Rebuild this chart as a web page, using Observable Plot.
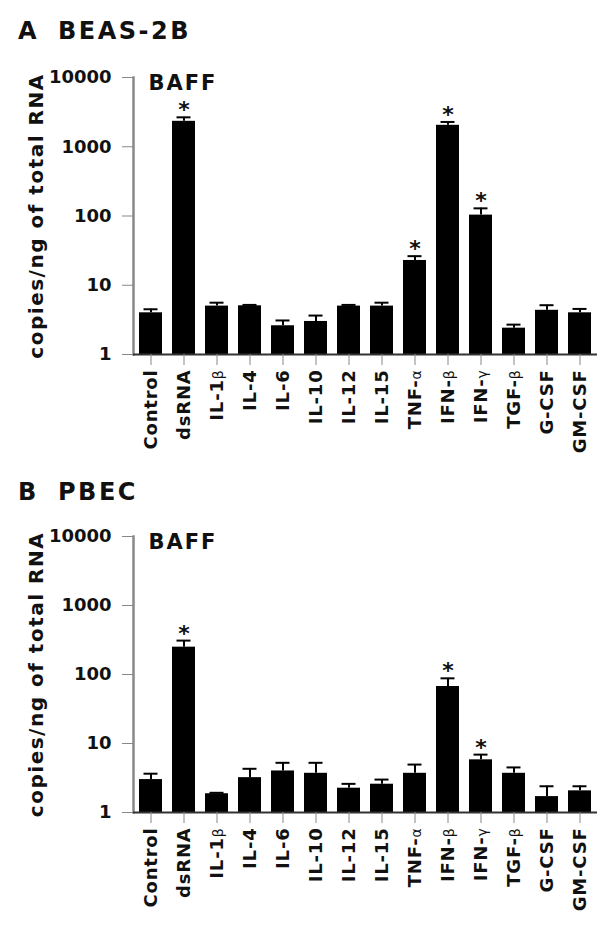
<!DOCTYPE html>
<html>
<head>
<meta charset="utf-8">
<script src="https://cdn.jsdelivr.net/npm/d3@7"></script>
<script src="https://cdn.jsdelivr.net/npm/@observablehq/plot@0.6"></script>
<style>
  body { margin: 0; background: #fff; }
  #wrap { position: relative; width: 616px; height: 940px; font-family: "DejaVu Sans", sans-serif; color: #111; }
  .ttl { position: absolute; font-weight: bold; font-size: 24px; line-height: 24px; letter-spacing: 2.5px; white-space: nowrap; }
  .panel { position: absolute; left: 0; }
</style>
</head>
<body>
<div id="wrap">
  <span class="ttl" style="left:18px; top:19px;">A</span>
  <span class="ttl" style="left:58px; top:19px;">BEAS-2B</span>
  <div class="panel" id="pA" style="top:50px;"></div>
  <span class="ttl" style="left:18px; top:480px;">B</span>
  <span class="ttl" style="left:58px; top:480px;">PBEC</span>
  <div class="panel" id="pB" style="top:510px;"></div>
</div>
<script>
// ---- data ----
const categories = ["Control", "dsRNA", "IL-1β", "IL-4", "IL-6", "IL-10", "IL-12", "IL-15", "TNF-α", "IFN-β", "IFN-γ", "TGF-β", "G-CSF", "GM-CSF"];
const yTicks = [1, 10, 100, 1000, 10000];
const geneLabel = "BAFF";
const yLabel = "copies/ng of total RNA";

const beasMean = [4.0, 2330, 5.0, 5.05, 2.6, 3.0, 5.0, 5.0, 22.8, 2040, 103, 2.4, 4.35, 4.0];
const beasErr  = [4.5, 2660, 5.6, 5.2, 3.1, 3.65, 5.2, 5.6, 26.3, 2280, 129, 2.7, 5.15, 4.55];
const beasSig  = ["dsRNA", "TNF-α", "IFN-β", "IFN-γ"];

const pbecMean = [3.0, 249, 1.87, 3.2, 4.0, 3.7, 2.25, 2.57, 3.7, 67, 5.8, 3.7, 1.7, 2.06];
const pbecErr  = [3.65, 310, 1.93, 4.3, 5.25, 5.25, 2.6, 3.0, 4.95, 88, 6.9, 4.5, 2.4, 2.4];
const pbecSig  = ["dsRNA", "IFN-β", "IFN-γ"];

function panel(means, errs, sig, marginTop, marginBottom) {
  const data = categories.map((c, i) => ({cat: c, value: means[i], err: errs[i], sig: sig.includes(c)}));
  const font = "DejaVu Sans";
  const svg = Plot.plot({
    width: 616,
    height: 430,
    marginLeft: 133,
    marginRight: 19,
    marginTop,
    marginBottom,
    style: {fontFamily: font, fontSize: "18px", fontWeight: "bold", color: "#111", background: "white"},
    x: {type: "band", domain: categories, paddingInner: 0.3, paddingOuter: 0.15, axis: null},
    y: {type: "log", domain: [1, 10000], axis: null},
    marks: [
      Plot.barY(data, {x: "cat", y1: 1, y2: "value", fill: "black"}),
      Plot.ruleX(data, {x: "cat", y1: "value", y2: "err", stroke: "black", strokeWidth: 2}),
      Plot.tickY(data, {x: "cat", y: "err", stroke: "black", strokeWidth: 2, insetLeft: 4.5, insetRight: 4.5}),
      Plot.text(data.filter(d => d.sig), {x: "cat", y: "err", text: () => "*", dy: -7, fontSize: 22, fontWeight: "bold", fill: "#111"}),
      Plot.frame({anchor: "left", stroke: "#888", strokeWidth: 2.5}),
      Plot.ruleY([1], {stroke: "#333", strokeWidth: 2}),
      Plot.axisY({ticks: yTicks, tickFormat: d => String(d), tickSize: 11, tickPadding: 11, stroke: "#888", fill: "#111", fontSize: 18, fontWeight: "bold", label: null}),
      Plot.axisX({tickSize: 11, tickPadding: 4, tickRotate: -90, stroke: "#888", fill: "#111", fontSize: 18, fontWeight: "bold", label: null}),
      Plot.text([geneLabel], {frameAnchor: "top-left", dx: 15, dy: -2, lineAnchor: "top", textAnchor: "start", fontSize: 21, fontWeight: "bold", fill: "#111"}),
      Plot.text([yLabel], {frameAnchor: "left", rotate: -90, dx: -97, textAnchor: "middle", lineAnchor: "middle", fontSize: 20, fontWeight: "bold", fill: "#111"})
    ]
  });
  // letter spacing for wide look, smaller Greek letters
  svg.querySelectorAll("text").forEach(t => {
    const s = t.textContent;
    if (s === geneLabel) t.style.letterSpacing = "2px";
    if (s === yLabel) t.style.letterSpacing = "1.5px";
  });
  const xg = svg.querySelector('g[aria-label="x-axis tick label"]');
  if (xg) {
    xg.style.letterSpacing = "0.8px";
    xg.querySelectorAll("text").forEach(t => {
      const s = t.textContent;
      const m = s.match(/^(.*?)([αβγ])$/);
      if (m) {
        t.textContent = "";
        const a = document.createElementNS("http://www.w3.org/2000/svg", "tspan");
        a.textContent = m[1];
        const b = document.createElementNS("http://www.w3.org/2000/svg", "tspan");
        b.textContent = m[2];
        b.setAttribute("font-size", "14");
        b.setAttribute("font-weight", "normal");
        t.appendChild(a); t.appendChild(b);
      }
    });
  }
  return svg;
}

document.getElementById("pA").appendChild(panel(beasMean, beasErr, beasSig, 27, 126));
document.getElementById("pB").appendChild(panel(pbecMean, pbecErr, pbecSig, 26, 128));
</script>
</body>
</html>
